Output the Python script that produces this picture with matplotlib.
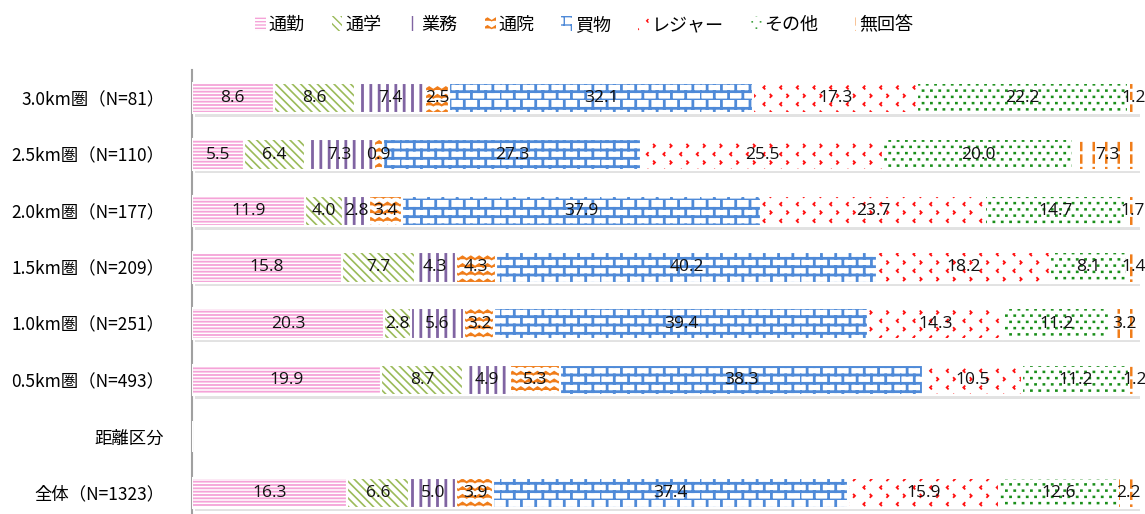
import matplotlib
matplotlib.use("Agg")
import warnings
warnings.filterwarnings("ignore")
import matplotlib.pyplot as plt
import matplotlib.hatch as mhatch
from matplotlib.path import Path
import numpy as np

plt.rcParams['font.family'] = ['Noto Sans CJK JP', 'DejaVu Sans']

# ---------- custom hatch patterns (style only) ----------
class BrickHatch(mhatch.HatchPatternBase):
    rows, cols = 12, 7
    def __init__(self, hatch, density):
        self.on = hatch.count('B') > 0
        self.num_vertices = (self.rows * 2 + self.rows * self.cols * 2) if self.on else 0
    def set_vertices_and_codes(self, vertices, codes):
        v = []
        for r in range(self.rows):
            y0 = r / self.rows
            v += [(0, y0), (1, y0)]
        for r in range(self.rows):
            y0, y1 = r / self.rows, (r + 1) / self.rows
            off = (0.5 / self.cols) if r % 2 else 0.0
            for c in range(self.cols):
                x = c / self.cols + off
                v += [(x, y0), (x, y1)]
        vertices[:] = np.array(v)
        codes[0::2] = Path.MOVETO
        codes[1::2] = Path.LINETO

class ZigzagHatch(mhatch.HatchPatternBase):
    rows, per = 13, 12
    def __init__(self, hatch, density):
        self.on = hatch.count('Z') > 0
        self.num_vertices = self.rows * (2 * self.per + 1) if self.on else 0
    def set_vertices_and_codes(self, vertices, codes):
        v, c = [], []
        amp = 0.35 / self.rows
        for r in range(self.rows):
            y = (r + 0.3) / self.rows
            for j in range(2 * self.per + 1):
                v.append((j / (2 * self.per), y + (amp if j % 2 else 0)))
                c.append(Path.MOVETO if j == 0 else Path.LINETO)
        vertices[:] = np.array(v)
        codes[:] = c

class ChevronHatch(mhatch.HatchPatternBase):
    rows, cols = 12, 6
    def __init__(self, hatch, density):
        self.on = hatch.count('V') > 0
        self.num_vertices = self.rows * self.cols * 3 if self.on else 0
    def set_vertices_and_codes(self, vertices, codes):
        v, c = [], []
        s = 0.013
        for r in range(self.rows):
            y = (r + 0.5) / self.rows
            off = (0.5 / self.cols) if r % 2 else 0.0
            d = -1 if r % 2 else 1
            for k in range(self.cols):
                x = (k + 0.3) / self.cols + off
                v += [(x - d * s, y + s), (x, y), (x - d * s, y - s)]
                c += [Path.MOVETO, Path.LINETO, Path.LINETO]
        vertices[:] = np.array(v)
        codes[:] = c

class DotHatch(mhatch.HatchPatternBase):
    rows, cols = 16, 12
    def __init__(self, hatch, density):
        self.on = hatch.count('P') > 0
        self.num_vertices = self.rows * self.cols * 2 if self.on else 0
    def set_vertices_and_codes(self, vertices, codes):
        v = []
        for r in range(self.rows):
            y = (r + 0.5) / self.rows
            off = (0.5 / self.cols) if r % 2 else 0.0
            for k in range(self.cols):
                x = (k + 0.25) / self.cols + off
                v += [(x, y), (x + 0.003, y)]
        vertices[:] = np.array(v)
        codes[0::2] = Path.MOVETO
        codes[1::2] = Path.LINETO

class DashHatch(mhatch.HatchPatternBase):
    cols, rows = 8, 8
    def __init__(self, hatch, density):
        self.on = hatch.count('D') > 0
        self.num_vertices = self.cols * self.rows * 2 if self.on else 0
    def set_vertices_and_codes(self, vertices, codes):
        v = []
        for k in range(self.cols):
            x = (k + 0.5) / self.cols
            for r in range(self.rows):
                y0 = r / self.rows
                v += [(x, y0), (x, y0 + 0.55 / self.rows)]
        vertices[:] = np.array(v)
        codes[0::2] = Path.MOVETO
        codes[1::2] = Path.LINETO

mhatch._hatch_types.extend([BrickHatch, ZigzagHatch, ChevronHatch, DotHatch, DashHatch])

# ---------- data ----------
categories = ["3.0km圏（N=81）", "2.5km圏（N=110）", "2.0km圏（N=177）", "1.5km圏（N=209）",
              "1.0km圏（N=251）", "0.5km圏（N=493）", "距離区分", "全体（N=1323）"]
series_names = ["通勤", "通学", "業務", "通院", "買物", "レジャー", "その他", "無回答"]
commute  = [8.6, 5.5, 11.9, 15.8, 20.3, 19.9, None, 16.3]
school   = [8.6, 6.4, 4.0, 7.7, 2.8, 8.7, None, 6.6]
business = [7.4, 7.3, 2.8, 4.3, 5.6, 4.9, None, 5.0]
hospital = [2.5, 0.9, 3.4, 4.3, 3.2, 5.3, None, 3.9]
shopping = [32.1, 27.3, 37.9, 40.2, 39.4, 38.3, None, 37.4]
leisure  = [17.3, 25.5, 23.7, 18.2, 14.3, 10.5, None, 15.9]
other    = [22.2, 20.0, 14.7, 8.1, 11.2, 11.2, None, 12.6]
no_ans   = [1.2, 7.3, 1.7, 1.4, 3.2, 1.2, None, 2.2]
series = [commute, school, business, hospital, shopping, leisure, other, no_ans]

colors = ["#f5a3d8", "#9bbb59", "#8064a2", "#f07d1a", "#4f8ad8", "#ff1010", "#1a8f1a", "#f07d1a"]
hatches = ["-----", "\\\\\\\\", "||", "Z", "B", "V", "P", "D"]
hatch_lw = [1.3, 1.2, 2.0, 1.5, 2.0, 1.3, 1.8, 1.8]

fig = plt.figure(figsize=(11.45, 5.14), dpi=100)
ax = fig.add_axes([192/1145, -7/514, (1140-192)/1145, (521-70)/514])

y = np.arange(len(categories))
left = np.zeros(len(categories))
bar_h = 0.54
for vals, name, c, h, hl in zip(series, series_names, colors, hatches, hatch_lw):
    v = np.array([0 if x is None else x for x in vals], dtype=float)
    ax.barh(y + 0.06, v, left=left + 0.3, height=bar_h, color="#e2e2e2", lw=0, zorder=1)
    with plt.rc_context({'hatch.linewidth': hl}):
        ax.barh(y, v, left=left, height=bar_h, color="white", edgecolor=c, hatch=h, lw=0,
                zorder=2, label=name)
    ax.barh(y, v, left=left, height=bar_h, fill=False, edgecolor="white", lw=1.5, zorder=3)
    for yi, (vi, li) in enumerate(zip(v, left)):
        if vi > 0:
            ax.text(li + vi/2, yi, f"{vi:.1f}", ha="center", va="center", fontsize=12.5,
                    color="#111111", zorder=4, family=['Open Sans', 'DejaVu Sans'])
    left += v

ax.set_xlim(0, 100)
ax.set_ylim(len(categories) - 0.5, -0.5)
ax.set_yticks(y)
ax.set_yticklabels(categories, fontsize=12.5)
ax.tick_params(axis='y', length=0, pad=20)
ax.set_xticks([])
for s in ["top", "right", "bottom"]:
    ax.spines[s].set_visible(False)
ax.spines["left"].set_color("#a0a0a0")
ax.spines["left"].set_linewidth(1.5)

handles, labels = ax.get_legend_handles_labels()
fig.legend(handles, labels, loc="center", bbox_to_anchor=(0.51, 1 - 25/514), ncol=8,
           frameon=False, fontsize=13, handlelength=0.6, handleheight=0.9,
           handletextpad=0.15, columnspacing=1.5)

fig.savefig("out.png", dpi=100)
